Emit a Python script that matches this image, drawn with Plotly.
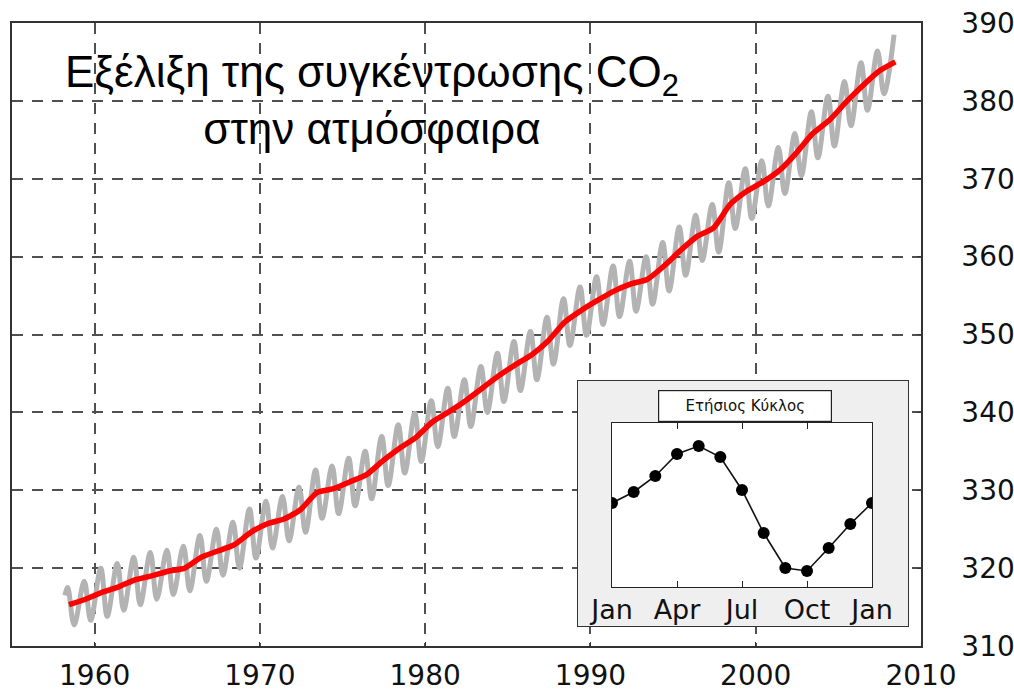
import plotly.graph_objects as go

# ---------------- data ----------------
years = list(range(1958, 2009))
annual_mean = [315.3, 316.0, 316.9, 317.6, 318.5, 319.0, 319.6, 320.0, 321.4, 322.2,
               323.0, 324.6, 325.7, 326.3, 327.5, 329.7, 330.2, 331.1, 332.0, 333.8,
               335.4, 336.8, 338.8, 340.1, 341.5, 343.1, 344.7, 346.1, 347.4, 349.2,
               351.6, 353.1, 354.4, 355.6, 356.5, 357.1, 358.8, 360.8, 362.6, 363.7,
               366.7, 368.4, 369.6, 371.1, 373.3, 375.8, 377.5, 379.8, 381.9, 383.8,
               385.0]
# seasonal maxima (May) 1958-2008 and minima (autumn) 1958-2007
may_peak = [317.5, 318.3, 320.0, 320.6, 321.4, 322.0, 322.3, 322.8, 324.2, 325.0,
            325.9, 327.6, 328.6, 329.2, 330.4, 332.6, 333.1, 334.1, 335.0, 336.9,
            338.4, 339.9, 341.5, 343.1, 344.2, 345.9, 347.6, 349.1, 350.4, 352.2,
            354.6, 356.1, 357.4, 358.8, 359.4, 360.0, 361.8, 363.8, 365.3, 366.7,
            369.5, 371.3, 372.3, 374.0, 375.8, 378.6, 380.6, 382.5, 384.9, 386.4,
            388.5]
autumn_trough = [312.7, 313.3, 313.8, 314.6, 315.3, 316.0, 316.6, 317.1, 318.3, 319.1,
                 320.0, 321.3, 322.6, 323.5, 324.6, 326.4, 327.0, 328.0, 328.9, 330.6,
                 332.2, 333.7, 335.6, 336.9, 338.2, 340.0, 341.4, 342.8, 344.2, 346.2,
                 348.6, 349.9, 351.3, 352.3, 353.0, 353.9, 355.6, 357.6, 359.5, 360.6,
                 363.6, 364.9, 366.5, 368.1, 370.4, 372.7, 374.2, 376.8, 378.8, 380.9]
first_obs_time = 1958.2
first_obs_value = 316.5

x_ticks = [1960, 1970, 1980, 1990, 2000, 2010]
y_ticks = [310, 320, 330, 340, 350, 360, 370, 380, 390]

month_pos = list(range(13))
seasonal_cycle = [0.0, 0.55, 1.35, 2.45, 2.85, 2.3, 0.65, -1.5, -3.25, -3.4, -2.25, -1.05, 0.0]
inset_tickvals = [0, 3, 6, 9, 12]
inset_ticktext = ["Jan", "Apr", "Jul", "Oct", "Jan"]

# -------------- build series --------------
gx, gy = [first_obs_time], [first_obs_value]
for i, yr in enumerate(years):
    gx.append(yr + 0.37)
    gy.append(may_peak[i])
    if i < len(autumn_trough):
        gx.append(yr + 0.76)
        gy.append(autumn_trough[i])

rx = [yr + 0.45 for yr in years]

fig = go.Figure()
fig.add_trace(go.Scatter(x=gx, y=gy, mode="lines",
                         line=dict(color="#b3b3b3", width=5, shape="spline", smoothing=1.0),
                         hoverinfo="skip", showlegend=False))
fig.add_trace(go.Scatter(x=rx, y=annual_mean, mode="lines",
                         line=dict(color="#ff0000", width=5.5, shape="spline", smoothing=0.6),
                         hoverinfo="skip", showlegend=False))

# grey inset panel (subplot 2)
fig.add_trace(go.Scatter(x=[0, 1, 1, 0, 0], y=[0, 0, 1, 1, 0], mode="lines",
                         fill="toself", fillcolor="#efefef", line=dict(width=0),
                         xaxis="x2", yaxis="y2", hoverinfo="skip", showlegend=False))
# inset data (subplot 3)
fig.add_trace(go.Scatter(x=month_pos, y=seasonal_cycle, mode="lines+markers",
                         line=dict(color="#111111", width=1.6),
                         marker=dict(color="#000000", size=12),
                         xaxis="x3", yaxis="y3", hoverinfo="skip", showlegend=False))

W, H = 1014, 692
L, R, T, B = 12, 1014 - 921, 23, 692 - 646
pw, ph = W - L - R, H - T - B

def px_x(p):  # window pixel -> paper fraction
    return (p - L) / pw

def px_y(p):
    return (H - B - p) / ph

tickfont = dict(family="DejaVu Sans", size=28, color="#111111")
insetfont = dict(family="DejaVu Sans", size=27, color="#111111")
axis_line = dict(showline=True, linecolor="#333333", linewidth=1.5, mirror=True,
                 ticks="inside", ticklen=4, tickwidth=1.2, tickcolor="#333333")
grid = dict(showgrid=True, gridcolor="#505050", gridwidth=1.8, griddash="11px,9px")

fig.update_layout(
    width=W, height=H,
    margin=dict(l=L, r=R, t=T, b=B, autoexpand=False),
    paper_bgcolor="white", plot_bgcolor="white",
    showlegend=False,
    xaxis=dict(range=[1955, 2010], tickvals=x_ticks, ticktext=[str(v) for v in x_ticks],
               zeroline=False, ticklabelstandoff=4, tickfont=tickfont,
               automargin=False, **grid, **axis_line),
    yaxis=dict(range=[310, 390], tickvals=y_ticks, ticktext=[str(v) for v in y_ticks],
               side="right", zeroline=False, ticklabelstandoff=33,
               tickfont=tickfont, automargin=False, **grid, **axis_line),
    xaxis2=dict(domain=[px_x(578), px_x(908)], range=[0, 1], anchor="y2", automargin=False,
                showgrid=False, zeroline=False, showticklabels=False, ticks="",
                showline=True, linecolor="#333333", linewidth=1.2, mirror=True),
    yaxis2=dict(domain=[px_y(626), px_y(381)], range=[0, 1], anchor="x2", automargin=False,
                showgrid=False, zeroline=False, showticklabels=False, ticks="",
                showline=True, linecolor="#333333", linewidth=1.2, mirror=True),
    xaxis3=dict(domain=[px_x(612), px_x(872)], range=[0, 12], anchor="y3", automargin=False,
                tickvals=inset_tickvals, ticktext=inset_ticktext,
                ticks="inside", ticklen=6, tickcolor="#222222", tickwidth=1.2,
                showgrid=False, zeroline=False, tickfont=insetfont, ticklabelstandoff=-2,
                showline=True, linecolor="#222222", linewidth=1.2, mirror="ticks"),
    yaxis3=dict(domain=[px_y(587), px_y(423)], range=[-4.2, 4.0], anchor="x3", automargin=False,
                showgrid=False, zeroline=False, showticklabels=False, ticks="",
                showline=True, linecolor="#222222", linewidth=1.2, mirror=True),
    annotations=[
        dict(text="Εξέλιξη της συγκέντρωσης CO<sub>2</sub><br>στην ατμόσφαιρα",
             xref="paper", yref="paper", x=px_x(372), y=px_y(100),
             xanchor="center", yanchor="middle", showarrow=False, align="center",
             font=dict(family="Liberation Sans", size=44, color="#000000")),
        dict(text="Ετήσιος Κύκλος", xref="paper", yref="paper",
             x=px_x(745), y=px_y(406), xanchor="center", yanchor="middle",
             showarrow=False, width=172, height=30, borderpad=0,
             bgcolor="white", bordercolor="#222222", borderwidth=1.2,
             font=dict(family="DejaVu Sans", size=15, color="#111111")),
    ],
)

# remove the page's default body margin so the figure fills the window exactly
fig.write_html("out.html", config={"displayModeBar": False},
               post_script="document.body.style.margin='0';")
